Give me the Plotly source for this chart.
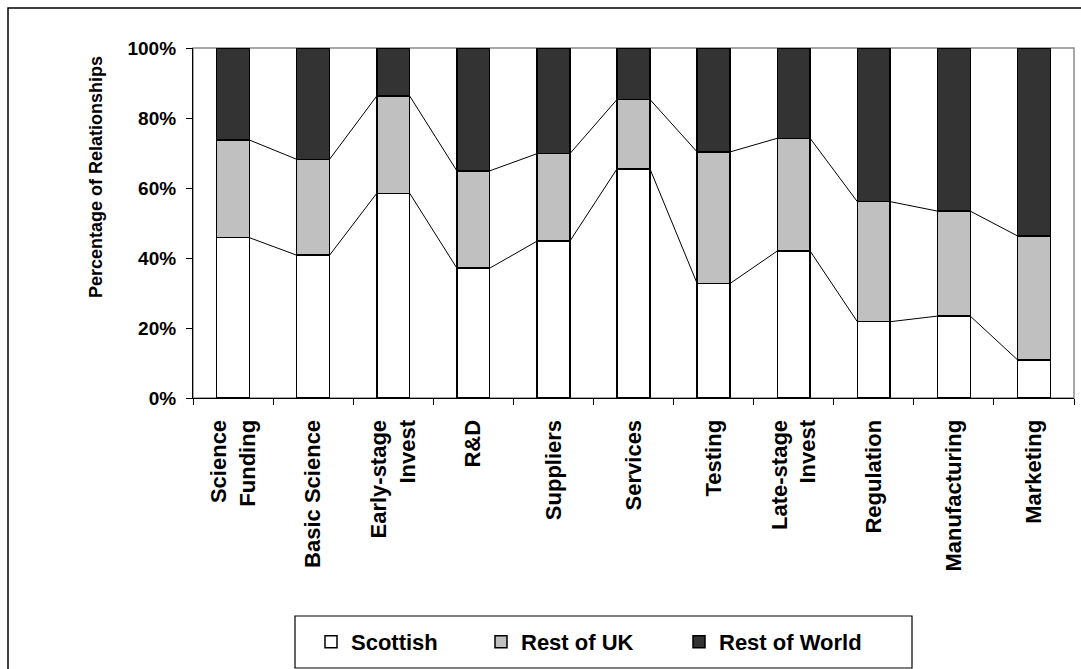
import plotly.graph_objects as go

categories = ["Science<br>Funding", "Basic Science", "Early-stage<br>Invest", "R&D",
              "Suppliers", "Services", "Testing", "Late-stage<br>Invest",
              "Regulation", "Manufacturing", "Marketing"]
scottish = [45.8, 40.8, 58.5, 37.1, 44.8, 65.5, 32.7, 42.0, 21.8, 23.4, 10.9]
rest_of_uk = [27.9, 27.4, 27.8, 27.8, 25.0, 19.8, 37.6, 32.2, 34.3, 30.0, 35.4]
rest_of_world = [26.3, 31.8, 13.7, 35.1, 30.2, 14.7, 29.7, 25.8, 43.9, 46.6, 53.7]
y_ticks = [0, 20, 40, 60, 80, 100]
y_tick_labels = ["0%", "20%", "40%", "60%", "80%", "100%"]

FONT = "Liberation Sans, Arial, sans-serif"
W, H = 1081, 669
ML, MR, MT, MB = 193, 7, 48, 271
PW, PH = W - ML - MR, H - MT - MB
BAR_W = 0.41

def px_x(p):
    return (p - ML) / PW

def px_y(p):
    return (H - MB - p) / PH

xs = list(range(len(categories)))
fig = go.Figure()

series = [("Scottish", scottish, "#FFFFFF", "legend"),
          ("Rest of UK", rest_of_uk, "#C0C0C0", "legend2"),
          ("Rest of World", rest_of_world, "#333333", "legend3")]
for name, vals, col, lg in series:
    fig.add_trace(go.Bar(x=xs, y=vals, name=name, width=BAR_W,
                         marker=dict(color=col, line=dict(color="black", width=1.5)),
                         legend=lg))

# series lines joining the tops of the lower segments
cum1 = scottish
cum2 = [a + b for a, b in zip(scottish, rest_of_uk)]
for cum in (cum1, cum2):
    lx, ly = [], []
    for i in range(len(xs) - 1):
        lx += [xs[i] + BAR_W / 2, xs[i + 1] - BAR_W / 2, None]
        ly += [cum[i], cum[i + 1], None]
    fig.add_trace(go.Scatter(x=lx, y=ly, mode="lines", showlegend=False,
                             line=dict(color="black", width=1), hoverinfo="skip"))

xtick_font = dict(family=FONT, size=22, color="black", weight="bold")
ytick_font = dict(family=FONT, size=19, color="black", weight="bold")

fig.update_layout(
    width=W, height=H,
    margin=dict(l=ML, r=MR, t=MT, b=MB, autoexpand=False),
    barmode="stack",
    plot_bgcolor="white", paper_bgcolor="white",
    font=dict(family=FONT, color="black"),
    xaxis=dict(range=[-0.5, len(categories) - 0.5], tickvals=xs, ticktext=categories,
               tickangle=-90, tickfont=xtick_font, ticks="outside", ticklen=6,
               tickcolor="rgba(0,0,0,0)", ticklabelstandoff=6,
               showline=True, linecolor="black", linewidth=1.2,
               showgrid=False, zeroline=False, fixedrange=True,
               minor=dict(tick0=-0.5, dtick=1, ticks="outside", ticklen=6,
                          tickcolor="black", tickwidth=1, showgrid=False)),
    yaxis=dict(range=[0, 100], tickvals=y_ticks, ticktext=y_tick_labels,
               tickfont=ytick_font, ticks="outside", ticklen=6, tickcolor="black",
               ticklabelstandoff=6, showline=True, linecolor="black", linewidth=1.2,
               showgrid=False, zeroline=False, fixedrange=True),
    showlegend=True,
    annotations=[dict(text="Percentage of Relationships", textangle=-90,
                      xref="paper", yref="paper", x=px_x(96), y=px_y(177),
                      xanchor="center", yanchor="middle", showarrow=False,
                      font=dict(family=FONT, size=18, color="black", weight="bold"))],
)

leg_common = dict(orientation="h", yanchor="middle", y=px_y(642), xanchor="left",
                  bgcolor="rgba(0,0,0,0)", borderwidth=0,
                  font=dict(family=FONT, size=22, color="black", weight="bold"))
fig.update_layout(legend=dict(x=px_x(325 - 14), **leg_common),
                  legend2=dict(x=px_x(495 - 14), **leg_common),
                  legend3=dict(x=px_x(693 - 14), **leg_common))

shapes = [
    # plot area border (grey)
    dict(type="rect", xref="paper", yref="paper", x0=0, x1=1, y0=0, y1=1,
         line=dict(color="#8C8C8C", width=1.5), layer="below"),
    # legend box
    dict(type="rect", xref="paper", yref="paper", x0=px_x(295), x1=px_x(912),
         y0=px_y(668), y1=px_y(616), line=dict(color="black", width=1.2)),
    # outer chart border
    dict(type="rect", xref="paper", yref="paper", x0=px_x(8), x1=px_x(W + 20),
         y0=px_y(H + 20), y1=px_y(8), line=dict(color="black", width=1.5)),
]
fig.update_layout(shapes=shapes)

fig.write_html("out.html")
